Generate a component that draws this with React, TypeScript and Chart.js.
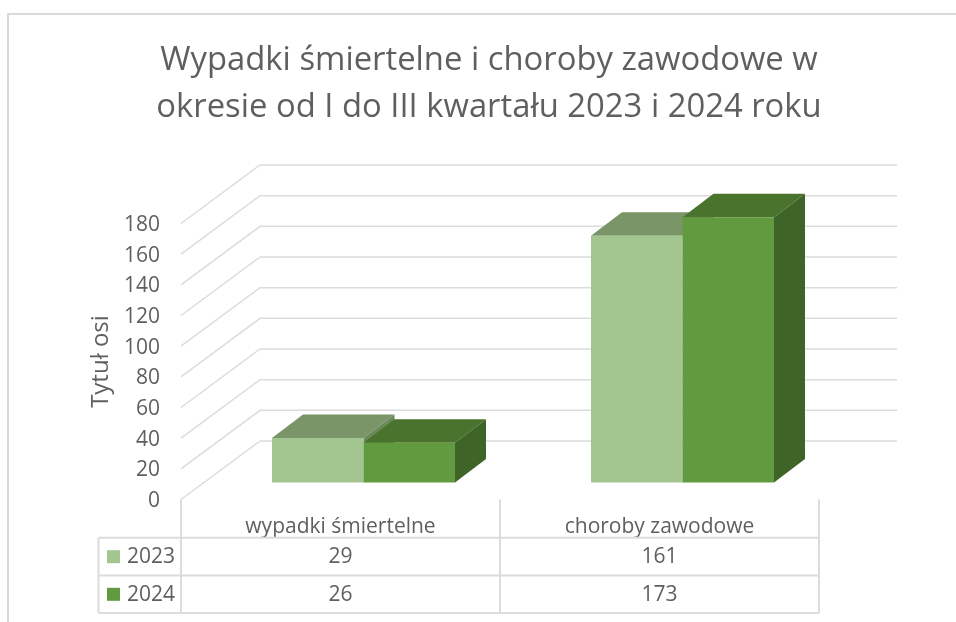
import React, { useEffect, useRef } from "react";
import { Chart, registerables } from "chart.js";

Chart.register(...registerables);

const categories = ["wypadki śmiertelne", "choroby zawodowe"];
const series2023 = [29, 161];
const series2024 = [26, 173];
const seriesNames = ["2023", "2024"];
const yTicks = [0, 20, 40, 60, 80, 100, 120, 140, 160, 180];
const titleLines = [
  "Wypadki śmiertelne i choroby zawodowe w",
  "okresie od I do III kwartału 2023 i 2024 roku",
];
const axisTitle = "Tytuł osi";

const FONT = '"Open Sans", sans-serif';
const TEXT = "#5f5f5f";
const LINE = "#dcdcdc";
const frontColors = ["#a3c58f", "#629b3f"];
const topColors = ["#7a9669", "#4a732e"];
const sideColors = ["#6b8a5a", "#3f6428"];

// projection offsets of the 3D box
const BAR_DX = 23, BAR_DY = -17; // bar plane relative to the front axis plane
const DEPTH_X = 31, DEPTH_Y = -23.5; // depth of each bar
const WALL_DX = 79, WALL_DY = -58.5; // back wall relative to the front axis
const WALL_RIGHT = 897;

const poly = (ctx: CanvasRenderingContext2D, pts: number[][], fill: string) => {
  ctx.beginPath();
  pts.forEach((p, i) => (i ? ctx.lineTo(p[0], p[1]) : ctx.moveTo(p[0], p[1])));
  ctx.closePath();
  ctx.fillStyle = fill;
  ctx.fill();
};

const threeD = {
  id: "threeD",
  afterLayout(chart: any) {
    // the title of the reference is centred on a box wider than the window
    chart.titleBlock.left = 22;
    chart.titleBlock.right = 956;
  },
  beforeDraw(chart: any) {
    const ctx: CanvasRenderingContext2D = chart.ctx;
    ctx.save();
    ctx.fillStyle = "#ffffff";
    ctx.fillRect(0, 0, chart.width, chart.height);
    ctx.strokeStyle = "#d9d9d9";
    ctx.lineWidth = 2;
    ctx.beginPath();
    ctx.moveTo(8, 622);
    ctx.lineTo(8, 14);
    ctx.lineTo(956, 14);
    ctx.stroke();
    ctx.restore();
  },
  beforeDatasetsDraw(chart: any) {
    const ctx: CanvasRenderingContext2D = chart.ctx;
    const y = chart.scales.y;
    const left = chart.chartArea.left;
    ctx.save();
    ctx.strokeStyle = LINE;
    ctx.lineWidth = 1.5;
    yTicks.forEach((t) => {
      const py = y.getPixelForValue(t);
      ctx.beginPath();
      ctx.moveTo(left, py);
      ctx.lineTo(left + WALL_DX, py + WALL_DY);
      ctx.lineTo(WALL_RIGHT, py + WALL_DY);
      ctx.stroke();
    });
    ctx.restore();

    ctx.save();
    ctx.translate(BAR_DX, BAR_DY);
    chart.data.datasets.forEach((_: any, di: number) => {
      chart.getDatasetMeta(di).data.forEach((bar: any) => {
        const l = bar.x - bar.width / 2;
        const r = bar.x + bar.width / 2;
        poly(ctx, [[l, bar.y], [r, bar.y], [r + DEPTH_X, bar.y + DEPTH_Y], [l + DEPTH_X, bar.y + DEPTH_Y]], topColors[di]);
        poly(ctx, [[r, bar.y], [r + DEPTH_X, bar.y + DEPTH_Y], [r + DEPTH_X, bar.base + DEPTH_Y], [r, bar.base]], sideColors[di]);
      });
    });
  },
  afterDatasetsDraw(chart: any) {
    chart.ctx.restore();
  },
  afterDraw(chart: any) {
    const ctx: CanvasRenderingContext2D = chart.ctx;
    const { left, right, bottom } = chart.chartArea;
    const x = chart.scales.x;
    const mid = (x.getPixelForValue(0) + x.getPixelForValue(1)) / 2;
    const tableLeft = 98.5;
    const rows = [537.8, 575.6, 613];
    ctx.save();
    ctx.strokeStyle = LINE;
    ctx.lineWidth = 2;
    ctx.beginPath();
    [left, mid, right].forEach((vx) => {
      ctx.moveTo(vx, bottom);
      ctx.lineTo(vx, rows[2]);
    });
    ctx.moveTo(tableLeft, rows[0]);
    ctx.lineTo(tableLeft, rows[2]);
    rows.forEach((ry) => {
      ctx.moveTo(tableLeft, ry);
      ctx.lineTo(right, ry);
    });
    ctx.stroke();

    ctx.font = `21px ${FONT}`;
    ctx.textBaseline = "middle";
    [series2023, series2024].forEach((vals, i) => {
      const cy = (rows[i] + rows[i + 1]) / 2;
      ctx.fillStyle = frontColors[i];
      ctx.fillRect(107, cy - 6.5, 13, 13);
      ctx.fillStyle = TEXT;
      ctx.textAlign = "left";
      ctx.fillText(seriesNames[i], 127, cy + 0.5);
      ctx.textAlign = "center";
      vals.forEach((v, j) => ctx.fillText(String(v), x.getPixelForValue(j), cy + 0.5));
    });
    ctx.restore();
  },
};

export default function App() {
  const ref = useRef<HTMLCanvasElement>(null);
  useEffect(() => {
    const chart = new Chart(ref.current!, {
      type: "bar",
      data: {
        labels: categories,
        datasets: [
          { label: seriesNames[0], data: series2023, backgroundColor: frontColors[0], clip: false },
          { label: seriesNames[1], data: series2024, backgroundColor: frontColors[1], clip: false },
        ] as any,
      },
      plugins: [threeD],
      options: {
        responsive: false,
        animation: false,
        events: [],
        layout: { padding: { left: 87, right: 137, top: 0, bottom: 0 } },
        datasets: { bar: { categoryPercentage: 0.5737, barPercentage: 1 } },
        plugins: {
          legend: { display: false },
          tooltip: { enabled: false },
          title: {
            display: true,
            text: titleLines,
            color: TEXT,
            font: { family: FONT, size: 32.8, weight: "normal", lineHeight: 47 / 32.8 },
            padding: { top: 37, bottom: 92.5 },
          },
        },
        scales: {
          x: {
            grid: { display: false, drawTicks: false },
            border: { display: false },
            ticks: { color: TEXT, font: { family: FONT, size: 21 }, padding: 15, maxRotation: 0 },
            afterFit(s: any) {
              s.height = 122.5;
            },
          },
          y: {
            min: 0,
            max: 180,
            afterBuildTicks(s: any) {
              s.ticks = yTicks.map((value) => ({ value }));
            },
            grid: { display: false, drawTicks: false },
            border: { display: false },
            ticks: { color: TEXT, font: { family: FONT, size: 21 }, padding: 21, labelOffset: 1.5 },
            title: {
              display: true,
              text: axisTitle,
              color: TEXT,
              font: { family: FONT, size: 24 },
              padding: { top: 0, bottom: 0 },
            },
            afterFit(s: any) {
              s.width = 94;
            },
          },
        },
      } as any,
    });
    return () => chart.destroy();
  }, []);
  return (
    <div style={{ position: "absolute", left: 0, top: 0, width: 956, height: 622, overflow: "hidden", background: "#fff" }}>
      <canvas ref={ref} width={956} height={622} style={{ display: "block" }} />
    </div>
  );
}
